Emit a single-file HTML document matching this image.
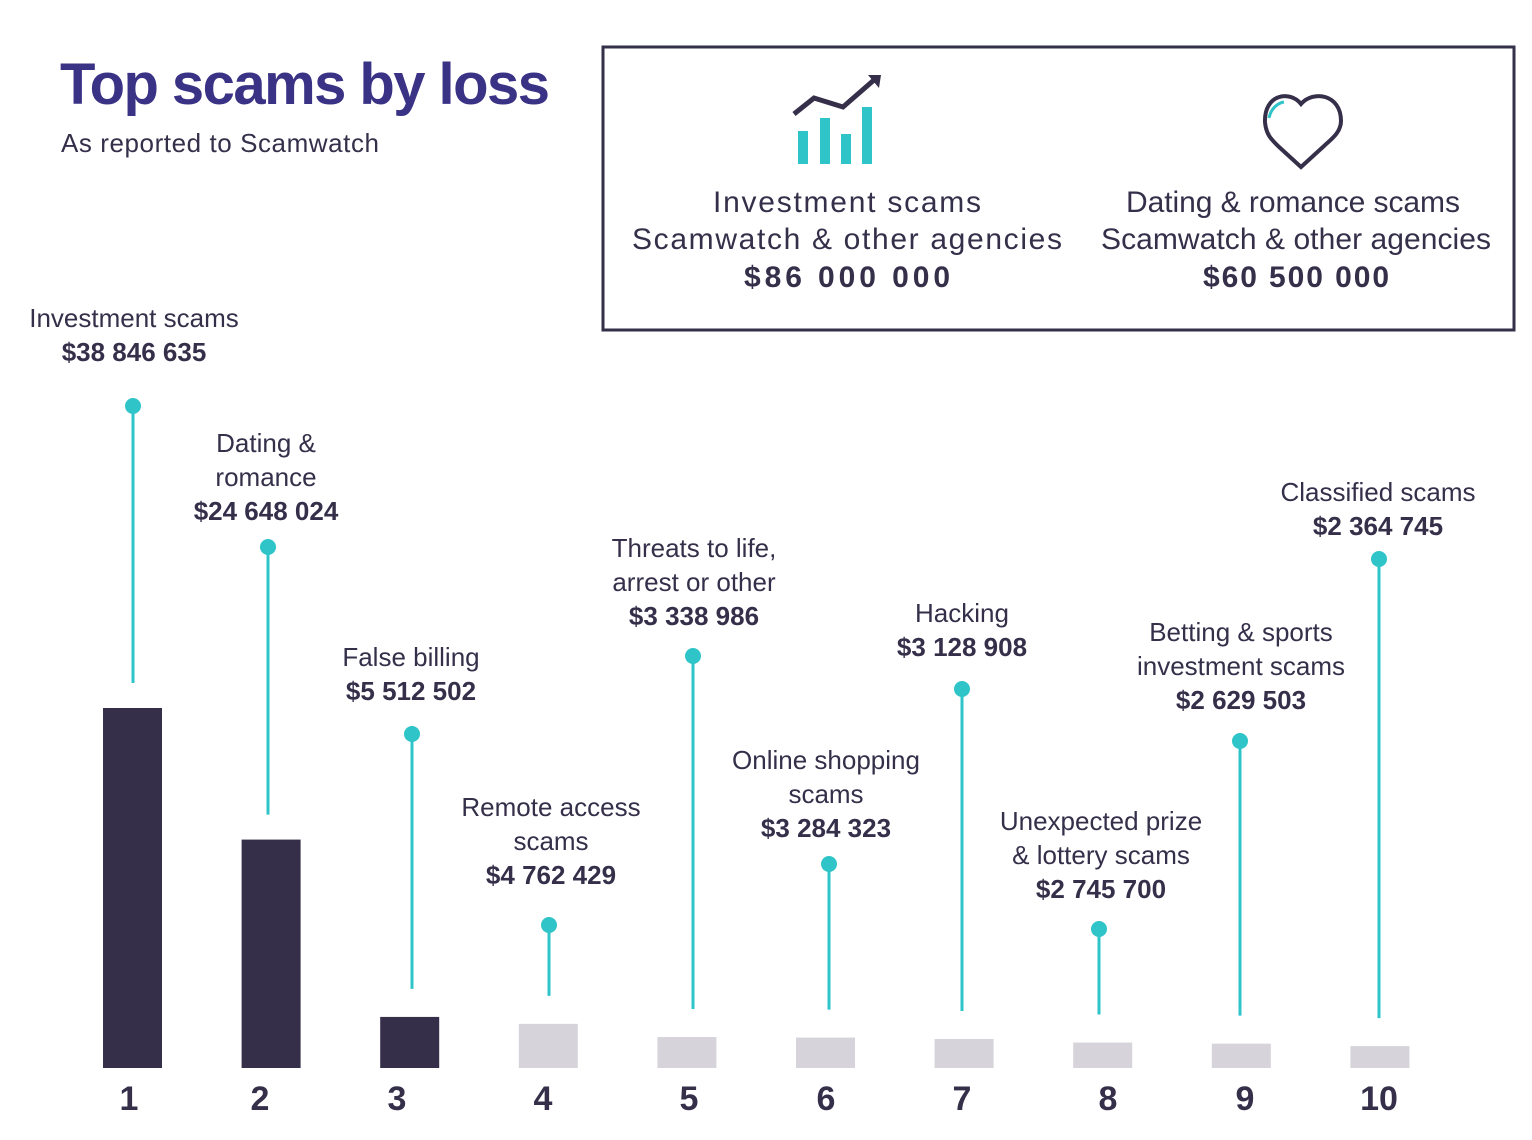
<!DOCTYPE html>
<html><head><meta charset="utf-8"><style>
body{margin:0;background:#fff;}
svg{display:block;font-family:"Liberation Sans",sans-serif;}
</style></head><body>
<svg id="chart" width="1532" height="1140" viewBox="0 0 1532 1140">
<text x="60" y="104" font-size="58" font-weight="bold" fill="#3a3285" textLength="490">Top scams by loss</text>
<text x="61" y="152" font-size="26" fill="#352f4a" textLength="318">As reported to Scamwatch</text>
<rect x="603" y="47" width="911" height="283" fill="none" stroke="#352f4a" stroke-width="3"/>
<g>
<rect x="798" y="131" width="10" height="33" fill="#2ec4c8"/><rect x="820" y="118" width="10" height="46" fill="#2ec4c8"/>
<rect x="841" y="134" width="10" height="30" fill="#2ec4c8"/><rect x="862" y="107" width="10" height="57" fill="#2ec4c8"/>
<polyline points="794,114 814,98 843,107 874,80" fill="none" stroke="#352f4a" stroke-width="5"/>
<polygon points="868,75 881,75 879,88" fill="#352f4a"/>
</g>
<g>
<path d="M1301,104 C1290,90 1264,94 1265,122 C1266,135 1272,140 1278,146 L1301,167 L1324,146 C1330,140 1341,133 1341,121 C1341,94 1313,90 1301,104 Z" fill="none" stroke="#352f4a" stroke-width="4"/>
<path d="M1269,118 C1271,108 1278,103 1284,102" fill="none" stroke="#2ec4c8" stroke-width="3"/>
</g>
<g font-size="30" fill="#352f4a" text-anchor="middle">
<text x="847" y="212" textLength="268">Investment scams</text>
<text x="847" y="249" textLength="430">Scamwatch &amp; other agencies</text>
<text x="847" y="287" font-weight="bold" textLength="206">$86 000 000</text>
<text x="1293" y="212" textLength="334">Dating &amp; romance scams</text>
<text x="1296" y="249" textLength="390">Scamwatch &amp; other agencies</text>
<text x="1296" y="287" font-weight="bold" textLength="186">$60 500 000</text>
</g>
<g id="plot"></g>
</svg>
<script>
const ranks = ["1","2","3","4","5","6","7","8","9","10"];
const losses = [38846635,24648024,5512502,4762429,3338986,3284323,3128908,2745700,2629503,2364745];
const labels = [["Investment scams"],["Dating &","romance"],["False billing"],["Remote access","scams"],["Threats to life,","arrest or other"],["Online shopping","scams"],["Hacking"],["Unexpected prize","& lottery scams"],["Betting & sports","investment scams"],["Classified scams"]];
const valueLabels = ["$38 846 635","$24 648 024","$5 512 502","$4 762 429","$3 338 986","$3 284 323","$3 128 908","$2 745 700","$2 629 503","$2 364 745"];
// annotation layout (not data)
const pinX = [133,268,412,549,693,829,962,1099,1240,1379];
const pinTop = [406,547,734,925,656,864,689,929,741,559];
const labX = [134,266,411,551,694,826,962,1101,1241,1378];
const valBase = [361,520,700,884,625,837,656,898,709,535];
const rankX = [129,260,397,543,689,826,962,1108,1245,1379];

const base = 1068, scale = 360/38846635;
const xBar = i => 103 + i*138.6;
const yVal = v => base - v*scale;
const NS = "http://www.w3.org/2000/svg";
const g = document.getElementById("plot");
function mk(tag, attrs){const e=document.createElementNS(NS,tag);for(const k in attrs)e.setAttribute(k,attrs[k]);g.appendChild(e);return e;}
losses.forEach((v,i)=>{
  const bar = mk("rect",{x:xBar(i),y:yVal(v),width:59,height:base-yVal(v),fill:i<3?"#352f4a":"#d6d4da"});
  
  
  const lineBottom = yVal(v) - (i<2?25:28);
  const ln = mk("line",{x1:pinX[i],x2:pinX[i],y1:pinTop[i],y2:lineBottom,stroke:"#2ec4c8","stroke-width":3});
  
  
  const dot = mk("circle",{cx:pinX[i],cy:pinTop[i],r:8,fill:"#2ec4c8"});
  
  
  const lines = labels[i];
  const valY = valBase[i];
  lines.forEach((t,j)=>{
    const tx = mk("text",{x:labX[i],y:valY-34*(lines.length-j),"font-size":26,fill:"#352f4a","text-anchor":"middle"});
    tx.textContent = t;
    
    
  });
  const vt = mk("text",{x:labX[i],y:valY,"font-size":26,"font-weight":"bold",fill:"#352f4a","text-anchor":"middle"});
  vt.textContent = valueLabels[i];
  
  
  const rk = mk("text",{x:rankX[i],y:1110,"font-size":34,"font-weight":"bold",fill:"#352f4a","text-anchor":"middle"});
  rk.textContent = ranks[i];
  
  
});
</script>
</body></html>
